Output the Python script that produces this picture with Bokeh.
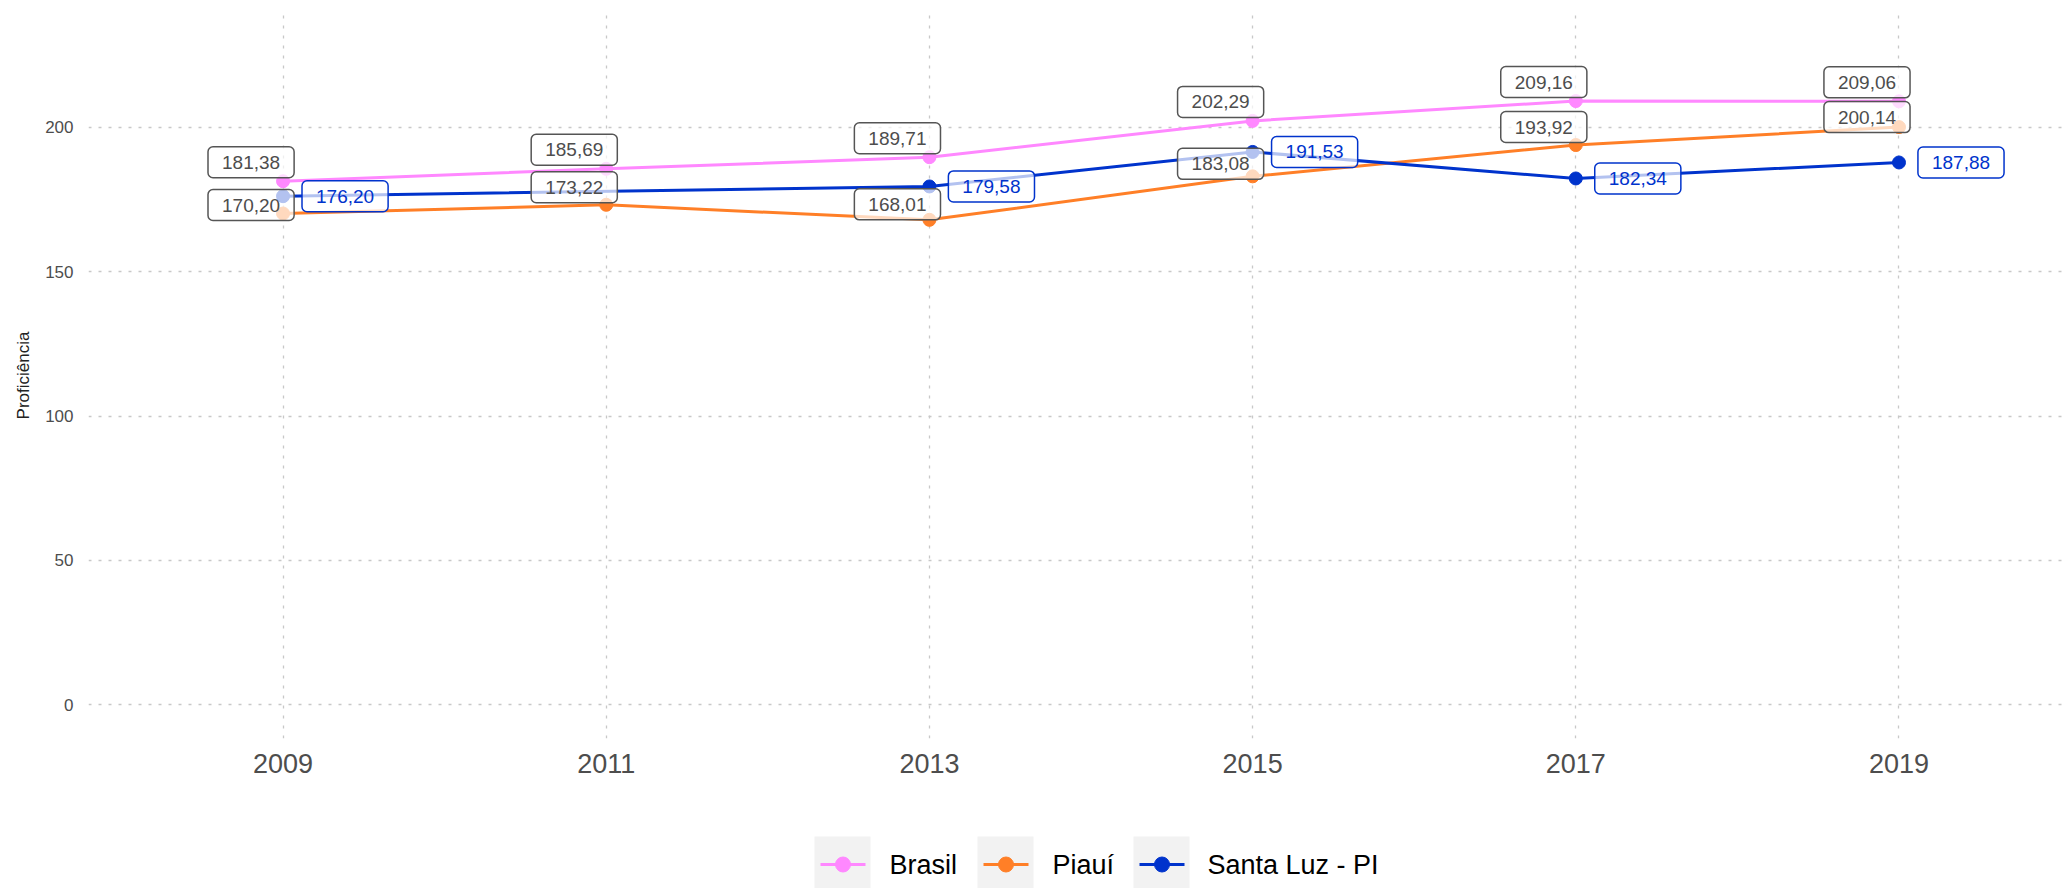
from bokeh.plotting import figure
from bokeh.models import ColumnDataSource, FixedTicker, Range1d
from bokeh.layouts import column
from bokeh.embed import file_html
from bokeh.resources import INLINE
from bokeh.core.properties import value

# ---------------- data ----------------
years = [2009, 2011, 2013, 2015, 2017, 2019]
brasil = [181.38, 185.69, 189.71, 202.29, 209.16, 209.06]
piaui = [170.20, 173.22, 168.01, 183.08, 193.92, 200.14]
santa_luz_years = [2009, 2013, 2015, 2017, 2019]
santa_luz = [176.20, 179.58, 191.53, 182.34, 187.88]
series_names = ["Brasil", "Piauí", "Santa Luz - PI"]
y_ticks = [0, 50, 100, 150, 200]
y_title = "Proficiência"

# ---------------- styles ----------------
colors = ["#ff88ff", "#ff7f27", "#0033cc"]
FONT = "Liberation Sans"
# label offsets (screen px) -- styling for repelled labels
brasil_dy = [-19, -19, -19, -19, -19, -19]
piaui_dy = [-8.5, -17.5, -15.5, -12.5, -18, -10]
gray_dx = -32
blue_dx = 62


def fmt(v):
    return f"{v:.2f}".replace(".", ",")


p = figure(width=2070, height=824, output_backend="svg", toolbar_location=None,
           x_range=Range1d(2007.796, 2020.049), y_range=Range1d(-11.68, 239.84),
           min_border_left=88, min_border_right=2, min_border_top=12, min_border_bottom=86)
p.outline_line_color = None
p.background_fill_color = "white"

p.xaxis.ticker = FixedTicker(ticks=years)
p.yaxis.ticker = FixedTicker(ticks=y_ticks)
for ax in (p.xaxis, p.yaxis):
    ax.axis_line_color = None
    ax.major_tick_line_color = None
    ax.minor_tick_line_color = None
    ax.major_tick_out = 0
    ax.major_tick_in = 0
    ax.minor_tick_out = 0
    ax.major_label_text_font = FONT
    ax.major_label_text_color = "#4d4d4d"
p.xaxis.major_label_text_font_size = "27px"
p.xaxis.major_label_standoff = 15
p.yaxis.major_label_text_font_size = "17px"
p.yaxis.major_label_standoff = 15
p.yaxis.axis_label = y_title
p.yaxis.axis_label_text_font = FONT
p.yaxis.axis_label_text_font_style = "normal"
p.yaxis.axis_label_text_font_size = "17px"
p.yaxis.axis_label_text_color = "#222222"
p.yaxis.axis_label_standoff = 9

for g in (p.xgrid, p.ygrid):
    g.grid_line_color = "#c8c8c8"
    g.grid_line_dash = "3 7"
    g.grid_line_width = 1.3

src_b = ColumnDataSource(dict(x=years, y=brasil, t=[fmt(v) for v in brasil],
                              dy=brasil_dy, dx=[gray_dx] * len(years)))
src_p = ColumnDataSource(dict(x=years, y=piaui, t=[fmt(v) for v in piaui],
                              dy=piaui_dy, dx=[gray_dx] * len(years)))
src_s = ColumnDataSource(dict(x=santa_luz_years, y=santa_luz, t=[fmt(v) for v in santa_luz],
                              dy=[0] * len(santa_luz_years), dx=[blue_dx] * len(santa_luz_years)))
sources = [src_b, src_p, src_s]

for src, c in zip(sources, colors):
    p.line("x", "y", source=src, line_color=c, line_width=3)
for src, c in zip(sources, colors):
    p.scatter("x", "y", source=src, size=13, fill_color=c, line_color=c)

pad = dict(left=14, right=14, top=9, bottom=9)
for src, tcol in ((src_b, "#4d4d4d"), (src_p, "#4d4d4d"), (src_s, colors[2])):
    bcol = "#555555" if tcol == "#4d4d4d" else tcol
    p.text("x", "y", text="t", source=src, x_offset="dx", y_offset="dy",
           anchor="center", text_align="center", text_baseline="middle",
           text_font=value(FONT), text_font_size="19px", text_color=tcol,
           background_fill_color="white", background_fill_alpha=0.7,
           border_line_color=bcol, border_line_width=1.5, border_radius=5,
           padding=pad)

# ---------------- legend (separate strip; its frame is aligned to the main frame 88..2068) ----------------
leg = figure(width=2070, height=64, output_backend="svg", toolbar_location=None,
             x_axis_location=None, y_axis_location=None,
             x_range=Range1d(88, 2068), y_range=Range1d(888, 824),
             min_border=0, min_border_left=88, min_border_right=2,
             min_border_top=0, min_border_bottom=0)
leg.grid.visible = False
leg.outline_line_color = None
key_left = [814, 977, 1133]
key_w = 56
text_x = [889, 1052, 1207]
key_src = ColumnDataSource(dict(
    l=key_left, r=[k + key_w for k in key_left],
    x0=[k + 6 for k in key_left], x1=[k + key_w - 5 for k in key_left],
    xc=[k + 28.5 for k in key_left], tx=text_x, c=colors, name=series_names))
leg.quad(left="l", right="r", top=836, bottom=892, source=key_src,
         fill_color="#f2f2f2", line_color=None)
leg.segment(x0="x0", x1="x1", y0=864, y1=864, source=key_src, line_color="c", line_width=3)
leg.scatter(x="xc", y=864, source=key_src, size=15, fill_color="c", line_color="c")
leg.text(x="tx", y=864, text="name", source=key_src, text_font=value(FONT),
         text_font_size="27px", text_color="black", text_align="left", text_baseline="middle")

layout = column(p, leg, spacing=0)
open("out.html", "w").write(file_html(layout, INLINE))
